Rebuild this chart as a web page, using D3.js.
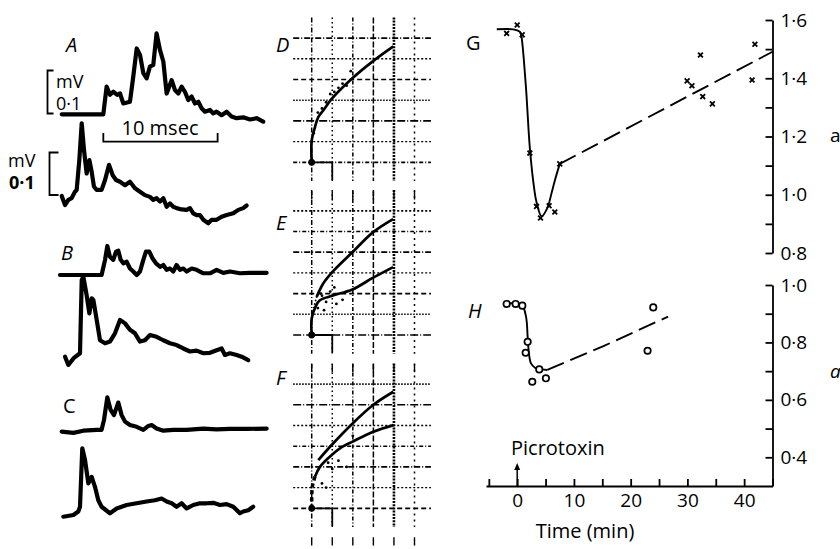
<!DOCTYPE html>
<html><head><meta charset="utf-8">
<script src="https://cdn.jsdelivr.net/npm/d3@7"></script>
<style>
body{margin:0;background:#fff;}
svg{display:block;font-family:"Open Sans",sans-serif;}
</style></head>
<body><svg id="c" width="840" height="549"></svg>
<script>
// ---------------- DATA ----------------
// Oscilloscope traces: [time (ms), amplitude (mV) relative to trace start]
const aUpper = [[0.15,0],[3.79,0],[4.08,.064],[4.37,.045],[4.66,.052],[5.01,.045],[5.25,.048],[5.54,.025],[6.12,.029],[6.41,.087],[6.71,.152],[7.0,.137],[7.29,.095],[7.58,.083],[7.87,.110],[8.16,.114],[8.45,.187],[8.75,.148],[9.04,.122],[9.33,.048],[9.77,.079],[10.06,.056],[10.35,.048],[10.64,.064],[10.93,.052],[11.22,.033],[11.52,.041],[11.81,.025],[12.1,.029],[12.39,.014],[12.68,.006],[13.12,.010],[13.41,.002],[13.7,.006],[14.14,-.002],[14.58,.006],[15.01,-.005],[15.45,-.009],[16.03,-.007],[16.62,-.012],[17.2,-.009],[17.78,-.017]];
const aLower = [[0.15,0],[0.44,-.021],[0.73,-.009],[1.02,-.005],[1.31,.010],[1.46,.014],[1.69,.083],[1.90,.168],[2.10,.106],[2.33,.052],[2.57,.083],[2.77,.056],[2.97,.022],[3.21,.014],[3.64,.014],[3.94,.037],[4.29,.072],[4.61,.048],[4.90,.037],[5.25,.033],[5.69,.025],[6.12,.033],[6.56,.018],[7.0,.010],[7.43,.002],[7.87,-.002],[8.16,-.009],[8.45,-.005],[8.75,-.013],[9.04,-.005],[9.33,-.025],[9.62,-.017],[9.91,-.025],[10.2,-.028],[10.64,-.031],[11.08,-.032],[11.37,-.028],[11.66,-.040],[11.95,-.044],[12.24,-.044],[12.54,-.055],[12.97,-.063],[13.27,-.055],[13.7,-.055],[14.14,-.048],[14.58,-.044],[15.16,-.040],[15.6,-.032],[16.03,-.028],[16.33,-.022]];
const bUpper = [[0,0],[3.64,0],[3.94,.035],[4.14,.067],[4.37,.042],[4.66,.035],[4.9,.054],[5.1,.056],[5.31,.035],[5.54,.027],[5.83,.031],[6.12,.015],[6.41,.008],[6.71,0],[7.0,.008],[7.29,.035],[7.52,.054],[7.81,.054],[8.1,.038],[8.4,.027],[8.75,.019],[9.04,.023],[9.33,.012],[9.62,.015],[9.91,.008],[10.2,.023],[10.5,.012],[10.79,.015],[11.08,.008],[11.52,.015],[11.95,.012],[12.54,.004],[13.12,.004],[13.7,.012],[14.29,.005],[14.87,.008],[15.74,.004],[16.62,.005],[18.08,.005]];
const bLower = [[0.44,0],[0.73,-.019],[1.17,-.004],[1.75,.008],[1.9,.177],[2.04,.185],[2.33,.142],[2.57,.10],[2.77,.135],[2.92,.131],[3.21,.085],[3.5,.038],[3.94,.031],[4.37,.035],[4.81,.054],[5.25,.085],[5.69,.077],[6.12,.062],[6.56,.054],[7.0,.035],[7.43,.038],[7.87,.05],[8.45,.046],[9.04,.038],[9.62,.031],[10.2,.027],[10.79,.019],[11.37,.012],[11.95,.014],[12.54,.008],[13.12,.009],[13.7,.015],[14.14,.019],[14.43,.004],[14.87,.008],[15.45,.004],[15.89,0],[16.47,-.008]];
const cUpper = [[0.15,-.002],[1.17,-.005],[2.04,0],[3.21,.002],[3.64,.002],[3.85,.025],[4.14,.077],[4.43,.048],[4.72,.036],[5.1,.065],[5.39,.036],[5.69,.021],[6.12,.013],[6.71,.009],[7.29,.002],[7.73,.011],[8.02,.013],[8.45,.005],[9.04,0],[9.91,.002],[11.08,.002],[12.54,.005],[13.7,.003],[14.87,.004],[16.33,.004],[18.08,.005]];
const cLower = [[0.29,0],[1.17,.004],[1.6,.012],[1.75,.023],[1.95,.158],[2.19,.131],[2.48,.077],[2.77,.092],[3.06,.069],[3.35,.038],[3.64,.023],[4.37,.008],[4.96,.019],[5.83,.027],[6.71,.031],[7.58,.035],[8.31,.038],[8.89,.042],[9.33,.035],[9.77,.031],[10.2,.023],[10.64,.031],[11.08,.019],[11.66,.027],[12.24,.031],[12.83,.031],[13.41,.032],[13.99,.027],[14.58,.029],[15.16,.023],[15.74,.008],[16.03,.012],[16.47,.015],[16.9,.023]];

// D, E, F: curves in grid units [x, y]
const dCurve = [[0,0],[0,1.04],[0.16,1.7],[0.32,2.18],[0.56,2.5],[0.97,3.06],[1.99,4.07],[3.0,4.9],[3.97,5.6]];
const dDots = [[0.5,2.6],[0.7,2.9],[0.9,3.3],[1.1,3.4],[1.3,3.6],[1.5,3.8],[1.7,3.7],[1.9,4.4],[0.3,2.4],[0.1,1.4]];
const eUpper = [[0.24,1.84],[0.56,2.49],[1.0,3.04],[1.98,4.0],[2.99,4.97],[3.96,5.6]];
const eLink = [[0.02,0.8],[0.1,1.3],[0.24,1.84]];
const eLower = [[0,0],[0,0.8],[0.2,1.4],[0.4,1.68],[1.0,1.9],[1.98,2.2],[2.99,2.77],[3.96,3.28]];
const eDots = [[0.3,1.3],[0.5,1.9],[0.7,1.6],[0.9,2.1],[1.2,1.5],[1.5,1.7],[0.6,1.2],[1.1,2.3],[0.45,2.0]];
const fUpper = [[0.32,2.33],[0.97,3.06],[1.99,4.1],[3.0,5.0],[3.97,5.63]];
const fLead = [[0,0],[0.03,1.04],[0.16,1.53]];
const fLower = [[0.16,1.53],[0.4,2.0],[0.97,2.57],[1.46,2.95],[1.99,3.22],[3.0,3.7],[3.97,4.02]];
const fDots = [[0.5,1.2],[0.7,1.0],[1.0,1.9],[1.3,2.3],[1.7,2.0],[2.0,3.5],[0.8,2.2]];

// G: time (min) vs a
const gTime = [-1.86,0,0.88,2.23,3.41,4.11,5.62,6.63,7.5,29.95,30.8,32.3,32.7,34.4,41.4,41.9];
const gVal  = [1.554,1.583,1.549,1.143,0.960,0.920,0.962,0.941,1.106,1.391,1.374,1.48,1.337,1.312,1.394,1.517];
const gFitT = [-3.6,-0.7,0.47,0.65,1.5,2.23,3.0,3.4,4.3,5.3,6.06,6.65,7.5];
const gFitV = [1.568,1.568,1.56,1.554,1.38,1.16,1.02,0.975,0.926,0.954,1.006,1.05,1.106];
const gTrendT = [7.5,45];
const gTrendV = [1.106,1.491];
// H
const hTime = [-1.86,-0.28,0.9,1.84,1.49,2.66,3.89,5.06,22.98,23.98];
const hVal  = [0.934,0.934,0.928,0.802,0.764,0.663,0.706,0.675,0.771,0.922];
const hFitT = [-1.86,0.78,1.55,1.84,2.07,2.43,3.13,4.3,5.3];
const hFitV = [0.936,0.93,0.89,0.82,0.762,0.727,0.712,0.706,0.704];
const hTrendT = [5.3,15.2,26.6];
const hTrendV = [0.704,0.787,0.89];

const gTicksMajor = [0.8,1.0,1.2,1.4,1.6];
const hTicksMajor = [0.4,0.6,0.8,1.0];
const timeTickLabels = [0,10,20,30,40];

// ---------------- DRAW ----------------
const svg = d3.select("#c");
const fmt = v => d3.format(".1f")(v).replace(".", "\u00B7");

// ---- traces ----
const tx = d3.scaleLinear().domain([0,10]).range([60,174.3]);
const traces = [
  {d:aUpper, base:114.3},{d:aLower, base:196},
  {d:bUpper, base:275},{d:bLower, base:356.7},
  {d:cUpper, base:430.7},{d:cLower, base:516.7}
];
traces.forEach(t=>{
  const ty = d3.scaleLinear().domain([0,0.1]).range([t.base, t.base-43.3]);
  svg.append("path").datum(t.d)
    .attr("d", d3.line().x(d=>tx(d[0])).y(d=>ty(d[1])))
    .attr("fill","none").attr("stroke","#000").attr("stroke-width",4.2)
    .attr("stroke-linejoin","round").attr("stroke-linecap","round");
});
// calibrations
const cal = svg.append("g").attr("fill","none").attr("stroke","#000").attr("stroke-width",1.8);
cal.append("path").attr("d","M53.5,70.5H47.5V113.5H53.5");
cal.append("path").attr("d","M58.5,152.5H49.5V195H58.5");
cal.append("path").attr("d",`M${tx(3.79)},133V141.7H${tx(13.79)}V133`);
const txt = (x,y,s,opt={}) => svg.append("text").attr("x",x).attr("y",y).text(s)
  .attr("font-size",opt.size||19).attr("font-style",opt.italic?"italic":"normal")
  .attr("font-weight",opt.bold?"bold":"normal").attr("text-anchor",opt.anchor||"start");
txt(56,88,"mV",{size:18}); txt(56,110,"0\u00B71",{size:18});
txt(8,167,"mV",{size:18}); txt(9,189,"0\u00B71",{size:18,bold:true});
txt(160,135,"10 msec",{size:20,anchor:"middle"});
txt(66,52,"A",{size:20,italic:true});
txt(61,260,"B",{size:20,italic:true});
txt(63,413,"C",{size:20});

// ---- D E F grids ----
const panels = [
  {base:162.3, curves:[dCurve], dots:dDots, label:"D", ly:52},
  {base:335, curves:[eUpper,eLower], link:eLink, dots:eDots, label:"E", ly:230},
  {base:508.3, curves:[fUpper,fLower], lead:fLead, dots:fDots, label:"F", ly:385}
];
const hStyles = ["4,2,1,2","2,2","8,2,1,2","1.5,1.5","5,3","2,2","6,2,1,2"];
const vStyles = ["5,2,1,2","1.5,3","4,2,1,2","6,2","2,1.2","2,4"];
panels.forEach((p,pi)=>{
  const gx = d3.scaleLinear().domain([0,5]).range([311.7,414.5]);
  const gy = d3.scaleLinear().domain([0,6]).range([p.base,p.base-124.2]);
  const g = svg.append("g");
  d3.range(0,7).forEach(k=>{
    g.append("line").attr("x1",gx(-0.9)).attr("x2",gx(5.8)).attr("y1",gy(k)).attr("y2",gy(k))
      .attr("stroke","#000").attr("stroke-width",k%2? 1.4:1.7)
      .attr("stroke-dasharray",hStyles[(k+pi*2)%hStyles.length]);
  });
  d3.range(0,6).forEach(k=>{
    g.append("line").attr("x1",gx(k)).attr("x2",gx(k)).attr("y1",gy(7)).attr("y2",gy(-0.9))
      .attr("stroke","#000").attr("stroke-width",k===4?2.6:1.5)
      .attr("stroke-dasharray",vStyles[k]);
    g.append("line").attr("x1",gx(k)).attr("x2",gx(k)).attr("y1",gy(-1.4)).attr("y2",gy(-1.8))
      .attr("stroke","#000").attr("stroke-width",1.4);
  });
  // step marker
  g.append("path").attr("d",`M${gx(0)},${gy(0)}H${gx(1)}V${gy(-0.85)}`)
    .attr("fill","none").attr("stroke","#000").attr("stroke-width",1.8);
  const ln = d3.line().x(d=>gx(d[0])).y(d=>gy(d[1])).curve(d3.curveCatmullRom);
  p.curves.forEach(c=>{
    g.append("path").datum(c).attr("d",ln).attr("fill","none").attr("stroke","#000").attr("stroke-width",2.7);
  });
  if(p.link) g.append("path").datum(p.link).attr("d",ln).attr("fill","none").attr("stroke","#000")
      .attr("stroke-width",1.6).attr("stroke-dasharray","1.5,2");
  if(p.lead) g.append("path").datum(p.lead).attr("d",ln).attr("fill","none").attr("stroke","#000")
      .attr("stroke-width",3.5).attr("stroke-dasharray","4,3");
  g.selectAll("circle.dot").data(p.dots).join("circle").attr("cx",d=>gx(d[0])).attr("cy",d=>gy(d[1]))
    .attr("r",1.4).attr("fill","#000");
  g.append("circle").attr("cx",gx(0)).attr("cy",gy(0)).attr("r",3.4).attr("fill","#000");
  txt(276,p.ly,p.label,{size:20,italic:true});
});

// ---- G & H ----
const x = d3.scaleLinear().domain([-5.5,45]).range([486,772.5]);
const yG = d3.scaleLinear().domain([0.8,1.6]).range([253,20]);
const yH = d3.scaleLinear().domain([0.3,1.0]).range([486,285]);
const axX = x(45);

function yAxis(y, minors, majors){
  const g = svg.append("g").attr("transform",`translate(${axX},0)`);
  g.call(d3.axisLeft(y).tickValues(minors).tickSizeInner(7).tickSizeOuter(0).tickFormat(""));
  const gl = svg.append("g").attr("transform",`translate(${axX},0)`);
  gl.call(d3.axisRight(y).tickValues(majors).tickSize(0).tickPadding(8).tickFormat(fmt));
  gl.select(".domain").remove();
  [g,gl].forEach(s=>{ s.selectAll("line,path").attr("stroke","#000").attr("stroke-width",1.8);
    s.selectAll("text").attr("font-size",19).attr("font-family","Open Sans").attr("fill","#000"); });
}
yAxis(yG, d3.range(0,9).map(i=>+(0.8+i*0.1).toFixed(1)), gTicksMajor);
yAxis(yH, d3.range(0,7).map(i=>+(0.4+i*0.1).toFixed(1)), hTicksMajor);

const gxA = svg.append("g").attr("transform",`translate(0,${yH(0.3)})`)
  .call(d3.axisBottom(x).tickValues(d3.range(-5,46,5)).tickSizeInner(-7).tickSizeOuter(0).tickPadding(8)
    .tickFormat(d=> timeTickLabels.includes(d)? d : ""));
gxA.selectAll("line,path").attr("stroke","#000").attr("stroke-width",1.8);
gxA.selectAll("text").attr("font-size",19).attr("font-family","Open Sans").attr("fill","#000");

txt(585,538,"Time (min)",{size:20,anchor:"middle"});
txt(511,455,"Picrotoxin",{size:20});
// arrow
svg.append("line").attr("x1",x(0)).attr("x2",x(0)).attr("y1",yH(0.3)).attr("y2",466)
  .attr("stroke","#000").attr("stroke-width",1.5);
svg.append("path").attr("d",`M${x(0)},463l-3,7h6z`).attr("fill","#000");
txt(830,142,"a",{size:19});
txt(830,378,"a",{size:19,italic:true});
txt(466,50,"G",{size:20});
txt(468,318,"H",{size:20,italic:true});

// G lines
const lineG = d3.line().x(d=>x(d[0])).y(d=>yG(d[1]));
svg.append("path").datum(d3.zip(gFitT,gFitV)).attr("d",lineG.curve(d3.curveCatmullRom))
  .attr("fill","none").attr("stroke","#000").attr("stroke-width",1.9);
svg.append("path").datum(d3.zip(gTrendT,gTrendV)).attr("d",d3.line().x(d=>x(d[0])).y(d=>yG(d[1])))
  .attr("fill","none").attr("stroke","#000").attr("stroke-width",1.9).attr("stroke-dasharray","18,7");
svg.selectAll("path.gx").data(d3.zip(gTime,gVal)).join("path")
  .attr("d",d=>{const cx=x(d[0]),cy=yG(d[1]),s=2.4;return `M${cx-s},${cy-s}L${cx+s},${cy+s}M${cx-s},${cy+s}L${cx+s},${cy-s}`;})
  .attr("stroke","#000").attr("stroke-width",1.8);

// H lines
svg.append("path").datum(d3.zip(hFitT,hFitV)).attr("d",d3.line().x(d=>x(d[0])).y(d=>yH(d[1])).curve(d3.curveCatmullRom))
  .attr("fill","none").attr("stroke","#000").attr("stroke-width",1.9);
svg.append("path").datum(d3.zip(hTrendT,hTrendV)).attr("d",d3.line().x(d=>x(d[0])).y(d=>yH(d[1])))
  .attr("fill","none").attr("stroke","#000").attr("stroke-width",1.9).attr("stroke-dasharray","18,7");
svg.selectAll("circle.h").data(d3.zip(hTime,hVal)).join("circle")
  .attr("cx",d=>x(d[0])).attr("cy",d=>yH(d[1])).attr("r",3.2)
  .attr("fill","#fff").attr("stroke","#000").attr("stroke-width",1.7);
</script></body></html>
